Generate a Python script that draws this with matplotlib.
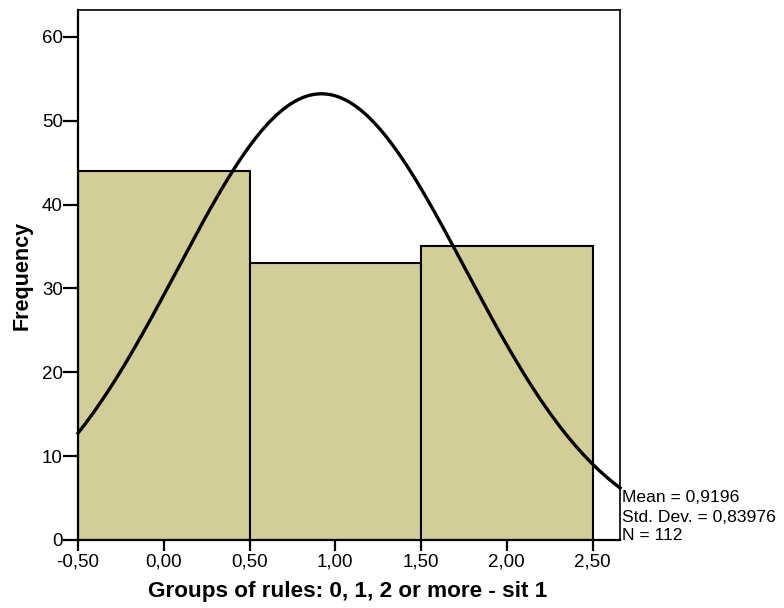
import numpy as np
import matplotlib
matplotlib.use("Agg")
import matplotlib.pyplot as plt

bin_edges = [-0.5, 0.5, 1.5, 2.5]
counts = [44, 33, 35]
mean = 0.9196
std = 0.83976
n = 112
xticks = [-0.5, 0.0, 0.5, 1.0, 1.5, 2.0, 2.5]
xticklabels = ["-0,50", "0,00", "0,50", "1,00", "1,50", "2,00", "2,50"]
yticks = [0, 10, 20, 30, 40, 50, 60]
stats_lines = ["Mean = 0,9196", "Std. Dev. = 0,83976", "N = 112"]

plt.rcParams['font.family'] = ['Liberation Sans', 'DejaVu Sans']

W, H = 784, 608
fig = plt.figure(figsize=(W / 100, H / 100), dpi=100)
ax_l, ax_r, ax_t, ax_b = 78, 620, 10, 540
ax = fig.add_axes([ax_l / W, (H - ax_b) / H, (ax_r - ax_l) / W, (ax_b - ax_t) / H])

widths = np.diff(bin_edges)
ax.bar(bin_edges[:-1], counts, width=widths, align='edge', color='#d3ce98',
       edgecolor='black', linewidth=1.5, zorder=2)

xmin, xmax = -0.5, 2.66
xs = np.linspace(xmin, xmax, 400)
binw = widths[0]
ys = n * binw / (std * np.sqrt(2 * np.pi)) * np.exp(-0.5 * ((xs - mean) / std) ** 2)
ax.plot(xs, ys, color='black', linewidth=2.4, zorder=3, clip_on=False)

ax.set_xlim(xmin, xmax)
ax.set_ylim(0, 63.2)
ax.set_xticks(xticks)
ax.set_xticklabels(xticklabels)
ax.set_yticks(yticks)
ax.tick_params(axis='x', direction='out', length=8, width=1.6, labelsize=13.5, pad=1.5)
ax.tick_params(axis='y', direction='out', length=10.5, width=1.6, labelsize=13.5, pad=0.5)
for name, s in ax.spines.items():
    s.set_linewidth(1.6 if name in ('left', 'bottom') else 1.2)

ax.set_xlabel("Groups of rules: 0, 1, 2 or more - sit 1", fontsize=16.2, fontweight='bold')
ax.xaxis.set_label_coords(0.497, (ax_b - 581) / (ax_b - ax_t))
ax.set_ylabel("Frequency", fontsize=15.5, fontweight='bold')
ax.yaxis.set_label_coords((33 - ax_l) / (ax_r - ax_l), 0.5)

for txt, yp in zip(stats_lines, [498, 517.5, 535.5]):
    fig.text(622 / W, 1 - yp / H, txt, fontsize=12.6, va='center', ha='left')

fig.savefig("out.png", dpi=100)
